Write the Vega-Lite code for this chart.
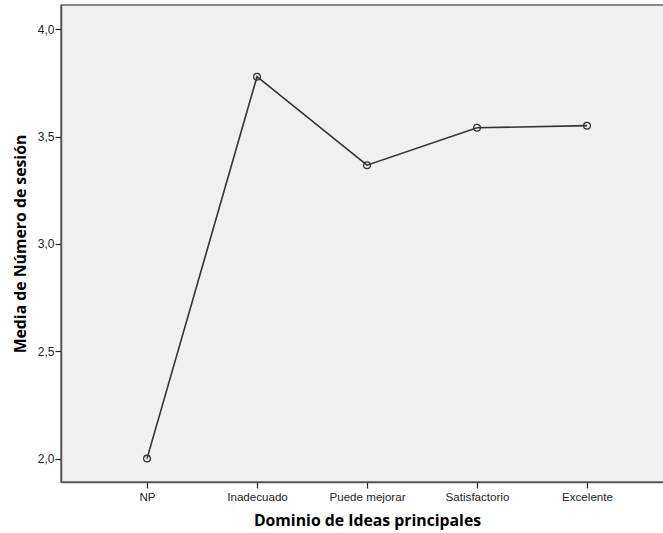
{
  "$schema": "https://vega.github.io/schema/vega-lite/v6.json",
  "autosize": {"type": "none"},
  "padding": {"left": 61, "top": 5, "right": 0, "bottom": 51},
  "width": 612,
  "height": 477,
  "background": "white",
  "config": {
    "font": "Liberation Sans",
    "view": {"fill": "#F0F0F0", "stroke": "#666666", "strokeWidth": 1.5},
    "axis": {
      "domainColor": "#555555",
      "domainWidth": 1.5,
      "tickColor": "#222222",
      "tickSize": 6,
      "tickWidth": 1.2,
      "labelFont": "Liberation Sans",
      "labelFontSize": 12,
      "labelColor": "#222222",
      "titleFont": "Open Sans",
      "titleFontSize": 15.8,
      "titleFontWeight": "bold",
      "titleColor": "#000000",
      "grid": false
    }
  },
  "data": {
    "values": [
      {"categoria": "NP", "media": 2.0},
      {"categoria": "Inadecuado", "media": 3.779},
      {"categoria": "Puede mejorar", "media": 3.367},
      {"categoria": "Satisfactorio", "media": 3.541},
      {"categoria": "Excelente", "media": 3.551}
    ]
  },
  "encoding": {
    "x": {
      "field": "categoria",
      "type": "ordinal",
      "sort": ["NP", "Inadecuado", "Puede mejorar", "Satisfactorio", "Excelente"],
      "scale": {"type": "point", "padding": 0.782},
      "axis": {"title": "Dominio de Ideas principales", "labelAngle": 0, "labelPadding": 3, "labelFontSize": 11.6, "titlePadding": 11}
    },
    "y": {
      "field": "media",
      "type": "quantitative",
      "scale": {"domain": [1.891, 4.113], "zero": false, "nice": false},
      "axis": {
        "title": "Media de Número de sesión",
        "values": [2.0, 2.5, 3.0, 3.5, 4.0],
        "labelExpr": "replace(format(datum.value, '.1f'), '.', ',')",
        "labelPadding": 1,
        "titlePadding": 9
      }
    }
  },
  "layer": [
    {"mark": {"type": "line", "color": "#333333", "strokeWidth": 1.6}},
    {"mark": {"type": "point", "shape": "circle", "filled": false, "size": 45, "stroke": "#333333", "strokeWidth": 1.3, "opacity": 1}}
  ]
}
